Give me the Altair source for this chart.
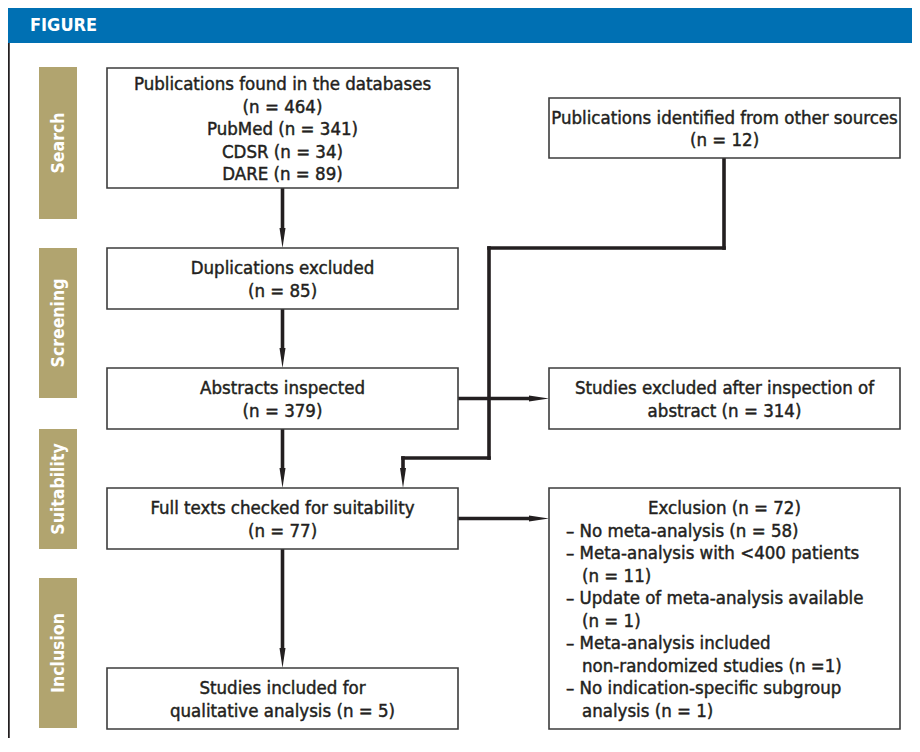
import altair as alt
import pandas as pd

# ---------------- content ----------------
header_title = "FIGURE"
stage_labels = ["Search", "Screening", "Suitability", "Inclusion"]

box_texts = {
    "db": ["Publications found in the databases", "(n = 464)", "PubMed (n = 341)",
           "CDSR (n = 34)", "DARE (n = 89)"],
    "other": ["Publications identified from other sources", "(n = 12)"],
    "dup": ["Duplications excluded", "(n = 85)"],
    "abs": ["Abstracts inspected", "(n = 379)"],
    "absx": ["Studies excluded after inspection of", "abstract (n = 314)"],
    "full": ["Full texts checked for suitability", "(n = 77)"],
    "incl": ["Studies included for", "qualitative analysis (n = 5)"],
}
excl_title = "Exclusion (n = 72)"
excl_items = [
    ("– No meta-analysis (n = 58)", 0),
    ("– Meta-analysis with <400 patients", 0),
    ("(n = 11)", 1),
    ("– Update of meta-analysis available", 0),
    ("(n = 1)", 1),
    ("– Meta-analysis included", 0),
    ("non-randomized studies (n =1)", 1),
    ("– No indication-specific subgroup", 0),
    ("analysis (n = 1)", 1),
]

# ---------------- layout (page pixel coordinates) ----------------
W, H = 904, 730
LX, RX = (107, 458), (549, 900)
boxes = {
    "db": (LX, (68, 188)),
    "other": (RX, (98, 158)),
    "dup": (LX, (248, 309)),
    "abs": (LX, (368, 429)),
    "absx": (RX, (368, 429)),
    "full": (LX, (488, 549)),
    "excl": (RX, (488, 729)),
    "incl": (LX, (668, 729)),
}
stage_spans = [(67, 219), (248, 398), (429, 549), (578, 728)]
stage_x = (39, 77)
LINE = 22.5

INK = "#231f20"
BLUE = "#0070b3"
TAN = "#b1a46f"
FONT = "DejaVu Sans Condensed, Liberation Sans Narrow, Arial Narrow, sans-serif"
FS = 18.5

xs = alt.Scale(domain=[8, 8 + W], nice=False, zero=False)
ys = alt.Scale(domain=[8, 8 + H], nice=False, zero=False, reverse=True)


def X(f="x"):
    return alt.X(f"{f}:Q", scale=xs, axis=None)


def Y(f="y"):
    return alt.Y(f"{f}:Q", scale=ys, axis=None)


# header
header_df = pd.DataFrame([{"x": 7, "x2": 8 + W, "y": 8, "y2": 43}])
header = alt.Chart(header_df).mark_rect(color=BLUE).encode(
    x=X(), x2="x2:Q", y=Y(), y2="y2:Q")
header_txt = alt.Chart(pd.DataFrame([{"x": 30, "y": 26, "t": header_title}])).mark_text(
    font=FONT, fontSize=18, fontWeight="bold", color="white", align="left", baseline="middle"
).encode(x=X(), y=Y(), text="t:N")

frame = alt.Chart(pd.DataFrame([{"x": 8.5, "y": 43, "y2": 8 + H}])).mark_rule(
    color=INK, strokeWidth=2.5).encode(x=X(), y=Y(), y2="y2:Q")

# stage bars
stage_df = pd.DataFrame([
    {"x": stage_x[0], "x2": stage_x[1], "y": a, "y2": b, "t": s,
     "cx": (stage_x[0] + stage_x[1]) / 2 + 1, "cy": (a + b) / 2}
    for s, (a, b) in zip(stage_labels, stage_spans)
])
stage_rect = alt.Chart(stage_df).mark_rect(color=TAN).encode(
    x=X(), x2="x2:Q", y=Y(), y2="y2:Q")
stage_txt = alt.Chart(stage_df).mark_text(
    font=FONT, fontSize=17.5, fontWeight="bold", color="white", angle=270,
    align="center", baseline="middle"
).encode(x=X("cx"), y=Y("cy"), text="t:N")

# boxes
box_df = pd.DataFrame([
    {"x": bx[0], "x2": bx[1], "y": by[0], "y2": by[1]} for (bx, by) in boxes.values()
])
box_rect = alt.Chart(box_df).mark_rect(fill="white", stroke="#3c3c3c", strokeWidth=1.6).encode(
    x=X(), x2="x2:Q", y=Y(), y2="y2:Q")

# centred texts
rows = []
for k, lines in box_texts.items():
    (bx, by) = boxes[k]
    cx = (bx[0] + bx[1]) / 2
    cy = (by[0] + by[1]) / 2
    n = len(lines)
    for i, t in enumerate(lines):
        rows.append({"x": cx, "y": cy + (i - (n - 1) / 2) * LINE + 1, "t": t})
(ex, ey) = boxes["excl"]
rows.append({"x": (ex[0] + ex[1]) / 2, "y": ey[0] + 20, "t": excl_title})
ctext_df = pd.DataFrame(rows)
ctext = alt.Chart(ctext_df).mark_text(
    font=FONT, fontSize=FS, color=INK, stroke=INK, strokeWidth=0.45,
    align="center", baseline="middle"
).encode(x=X(), y=Y(), text="t:N")

lrows = []
for i, (t, ind) in enumerate(excl_items):
    lrows.append({"x": ex[0] + 17 + ind * 16, "y": ey[0] + 20 + (i + 1) * LINE, "t": t})
ltext = alt.Chart(pd.DataFrame(lrows)).mark_text(
    font=FONT, fontSize=FS, color=INK, stroke=INK, strokeWidth=0.45,
    align="left", baseline="middle"
).encode(x=X(), y=Y(), text="t:N")

# connectors
AH = 20  # arrowhead length
cxL = (LX[0] + LX[1]) / 2
segs = [
    (cxL, 188, cxL, 248 - AH),
    (cxL, 309, cxL, 368 - AH),
    (cxL, 429, cxL, 488 - AH),
    (cxL, 549, cxL, 668 - AH),
    (724, 158, 724, 248),
    (724, 248, 489, 248),
    (489, 248, 489, 458),
    (489, 458, 403, 458),
    (403, 458, 403, 488 - AH),
    (458, 398.5, 549 - AH, 398.5),
    (458, 518.5, 549 - AH, 518.5),
]
seg_df = pd.DataFrame([{"x": a, "y": b, "x2": c, "y2": d} for a, b, c, d in segs])
conn = alt.Chart(seg_df).mark_rule(color=INK, strokeWidth=3.6, strokeCap="square").encode(
    x=X(), y=Y(), x2="x2:Q", y2="y2:Q")

down_df = pd.DataFrame([{"x": cxL, "y": t - AH / 2} for t in (248, 368, 488, 668)]
                       + [{"x": 403, "y": 488 - AH / 2}])
right_df = pd.DataFrame([{"x": 549 - AH / 2, "y": yy} for yy in (398.5, 518.5)])
down_path = "M-0.3,-1L0.3,-1L0,1Z"
right_path = "M-1,-0.3L-1,0.3L1,0Z"
down_ar = alt.Chart(down_df).mark_point(
    shape=down_path, size=AH * AH, filled=True, color=INK, opacity=1, strokeWidth=0
).encode(x=X(), y=Y())
right_ar = alt.Chart(right_df).mark_point(
    shape=right_path, size=AH * AH, filled=True, color=INK, opacity=1, strokeWidth=0
).encode(x=X(), y=Y())

chart = alt.layer(
    header, header_txt, frame, stage_rect, stage_txt, conn, down_ar, right_ar,
    box_rect, ctext, ltext
).properties(
    width=W, height=H, autosize=alt.AutoSizeParams(type="none"), padding=0,
    background="white"
).configure_view(stroke=None)

chart.save("out.html", embed_options={"renderer": "svg", "actions": False})
